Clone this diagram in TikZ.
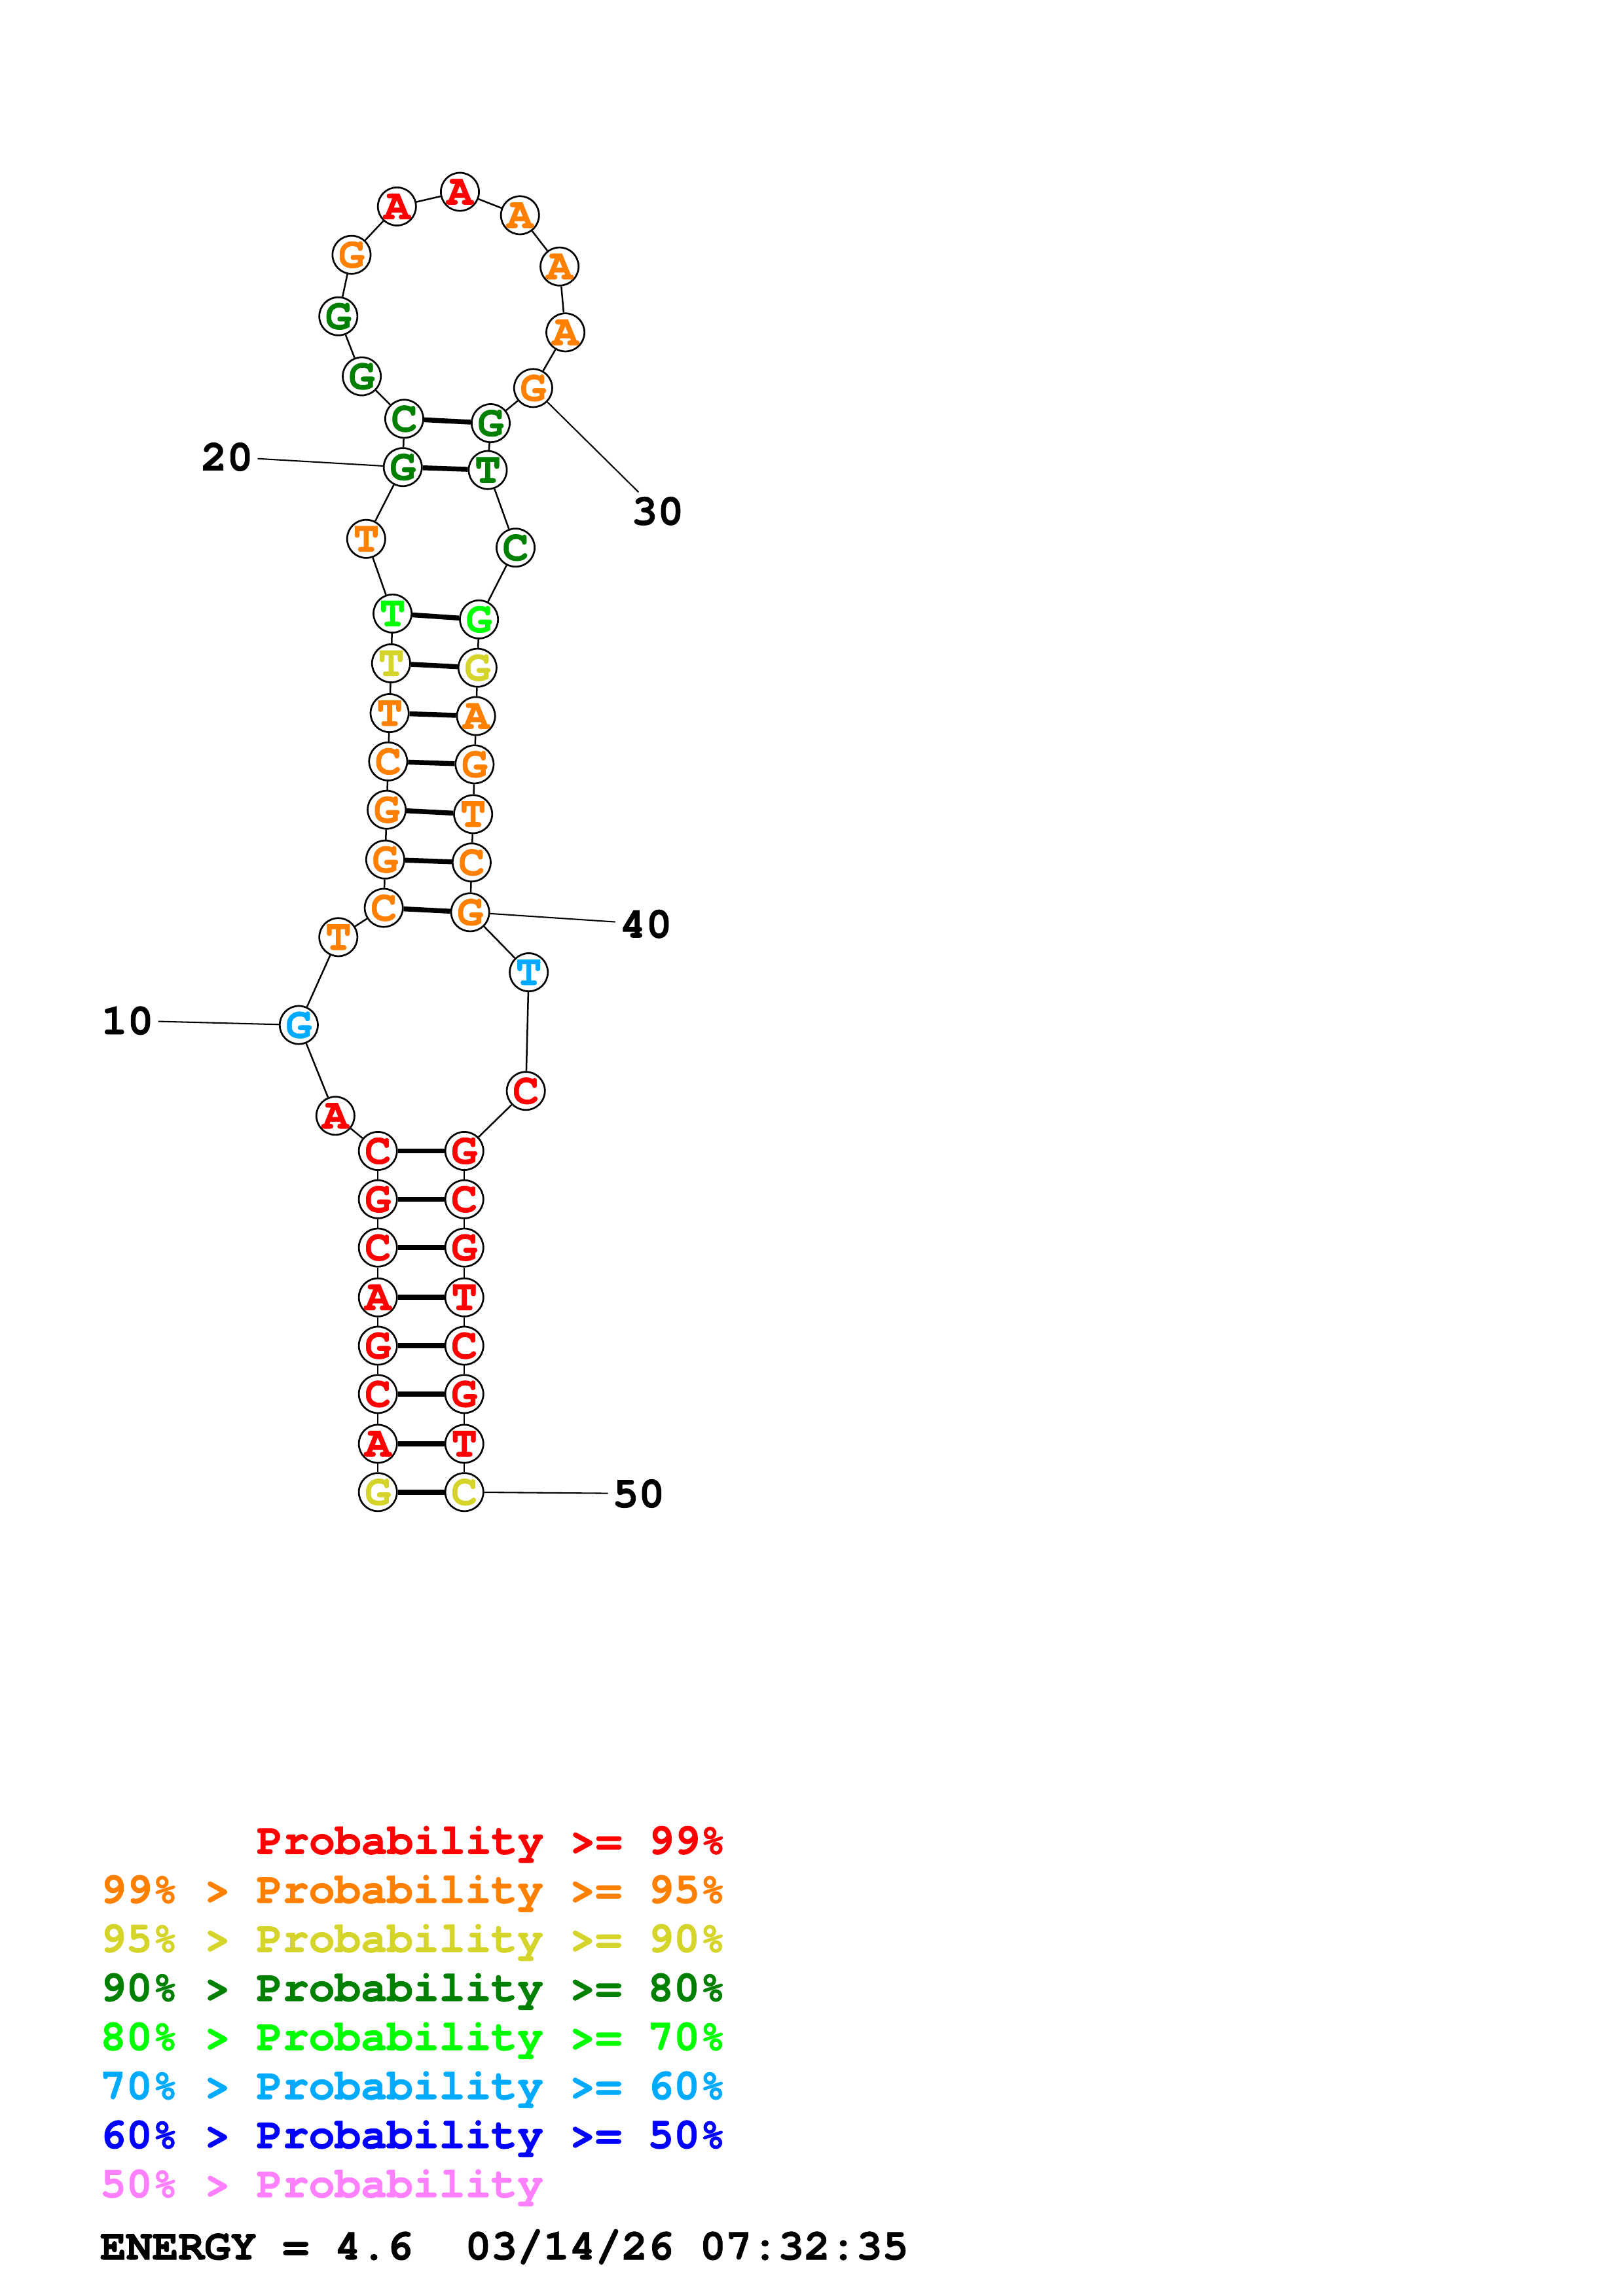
\documentclass[tikz,border=0pt]{standalone}
\usepackage{fontspec}
\setmonofont{TeX Gyre Cursor}[BoldFeatures={FakeBold=1.2}]
\definecolor{pr99}{RGB}{255,0,0}
\definecolor{pr95}{RGB}{255,128,0}
\definecolor{pr90}{RGB}{212,212,42}
\definecolor{pr80}{RGB}{0,128,0}
\definecolor{pr70}{RGB}{0,255,0}
\definecolor{pr60}{RGB}{0,170,255}
\definecolor{pr50}{RGB}{0,0,255}
\definecolor{prlow}{RGB}{255,128,255}

\begin{document}
\begin{tikzpicture}[x=0.18953mm, y=-0.18953mm, font=\ttfamily\bfseries\fontsize{16}{16}\selectfont,
  base/.style={circle, draw, line width=0.65pt, fill=white, minimum size=4.93mm, inner sep=0pt},
  backbone/.style={line width=0.6pt},
  bond/.style={line width=1.8pt},
  numlab/.style={inner sep=1.5pt},
  tick/.style={line width=0.5pt},
  legend/.style={anchor=base west, inner sep=0pt}]
  \useasboundingbox (0,0) rectangle (1108,1568);
  % bases, 5' to 3'
  \foreach \i/\x/\y/\b/\c in {
    1/258/1019/G/pr90, 2/258/986/A/pr99, 3/258/952/C/pr99, 4/258/919/G/pr99,
    5/258/886/A/pr99, 6/258/852/C/pr99, 7/258/819/G/pr99, 8/258/786/C/pr99,
    9/229/762/A/pr99, 10/204/700/G/pr60, 11/231/640/T/pr95, 12/262/620/C/pr95,
    13/263/587/G/pr95, 14/264/553/G/pr95, 15/265/520/C/pr95, 16/266/487/T/pr95,
    17/267/453/T/pr90, 18/268/419/T/pr70, 19/250/368/T/pr95, 20/275/319/G/pr80,
    21/276/286/C/pr80, 22/247/257/G/pr80, 23/231/216/G/pr80, 24/240/174/G/pr95,
    25/271/141/A/pr99, 26/314/131/A/pr99, 27/355/147/A/pr95, 28/382/182/A/pr95,
    29/386/227/A/pr95, 30/364/265/G/pr95, 31/335/289/G/pr80, 32/333/321/T/pr80,
    33/352/374/C/pr80, 34/327/423/G/pr70, 35/326/456/G/pr90, 36/325/489/A/pr95,
    37/324/522/G/pr95, 38/323/556/T/pr95, 39/322/589/C/pr95, 40/321/623/G/pr95,
    41/361/664/T/pr60, 42/359/745/C/pr99, 43/317/786/G/pr99, 44/317/819/C/pr99,
    45/317/852/G/pr99, 46/317/886/T/pr99, 47/317/919/C/pr99, 48/317/952/G/pr99,
    49/317/986/T/pr99, 50/317/1019/C/pr90}
    \node[base, text=\c] (n\i) at (\x,\y) {\b};
  % backbone
  \foreach \i in {1,...,49} {
    \pgfmathtruncatemacro\j{\i+1}
    \draw[backbone] (n\i) -- (n\j);
  }
  % base pairs
  \foreach \a/\b in {1/50,2/49,3/48,4/47,5/46,6/45,7/44,8/43,
                     12/40,13/39,14/38,15/37,16/36,17/35,18/34,20/32,21/31}
    \draw[bond] (n\a) -- (n\b);
  % position numbers
  \node[numlab] (l10) at (87,697) {10};
  \node[numlab] (l20) at (155,312) {20};
  \node[numlab] (l30) at (449,349) {30};
  \node[numlab] (l40) at (441,631) {40};
  \node[numlab] (l50) at (436,1020) {50};
  \foreach \k in {10,20,30,40,50} \draw[tick] (n\k) -- (l\k);
  % legend
  \node[legend, text=pr99] (g99) at (175,1266) {Probability >= 99\%};
  \node[legend, text=pr95] (g95) at (68,1299.5) {99\% > Probability >= 95\%};
  \node[legend, text=pr90] (g90) at (68,1333) {95\% > Probability >= 90\%};
  \node[legend, text=pr80] (g80) at (68,1366.5) {90\% > Probability >= 80\%};
  \node[legend, text=pr70] (g70) at (68,1400) {80\% > Probability >= 70\%};
  \node[legend, text=pr60] (g60) at (68,1433.5) {70\% > Probability >= 60\%};
  \node[legend, text=pr50] (g50) at (68,1467) {60\% > Probability >= 50\%};
  \node[legend, text=prlow] (glow) at (68,1500.5) {50\% > Probability};
  \node[legend] (energy) at (68,1543) {ENERGY = 4.6 \ 03/14/26 07:32:35};
\end{tikzpicture}
\end{document}
